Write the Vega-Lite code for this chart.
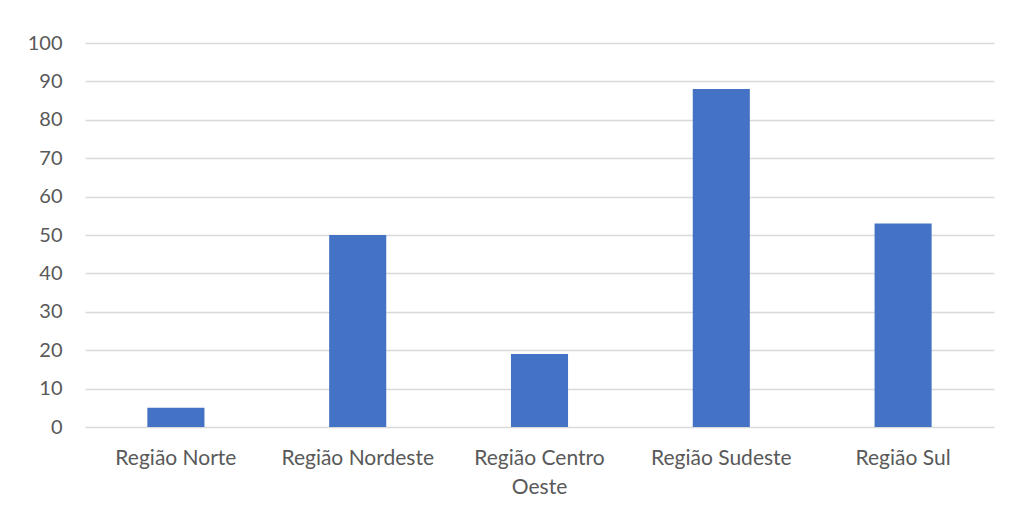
{
  "$schema": "https://vega.github.io/schema/vega-lite/v6.json",
  "width": 909,
  "height": 384,
  "autosize": {"type": "none"},
  "padding": {"left": 85, "top": 43, "right": 16, "bottom": 83},
  "background": "white",
  "config": {"view": {"stroke": null}, "font": "Lato"},
  "data": {"values": [
    {"regiao": "Região Norte", "valor": 5},
    {"regiao": "Região Nordeste", "valor": 50},
    {"regiao": "Região Centro Oeste", "valor": 19},
    {"regiao": "Região Sudeste", "valor": 88},
    {"regiao": "Região Sul", "valor": 53}
  ]},
  "mark": {"type": "bar", "color": "#4472C4", "width": {"band": 0.314}},
  "encoding": {
    "x": {
      "field": "regiao", "type": "nominal", "sort": null,
      "scale": {"paddingInner": 0, "paddingOuter": 0},
      "axis": {
        "title": null, "labelAngle": 0, "domain": false, "ticks": false,
        "labelFont": "Lato", "labelFontSize": 21, "labelColor": "#595959",
        "labelPadding": 20, "labelLineHeight": 29,
        "labelExpr": "datum.label == 'Região Centro Oeste' ? ['Região Centro', 'Oeste'] : datum.label"
      }
    },
    "y": {
      "field": "valor", "type": "quantitative",
      "scale": {"domain": [0, 100], "nice": false},
      "axis": {
        "title": null, "values": [0, 10, 20, 30, 40, 50, 60, 70, 80, 90, 100],
        "domain": false, "ticks": false,
        "labelFont": "Lato", "labelFontSize": 20, "labelColor": "#595959",
        "labelPadding": 23,
        "gridColor": "#d9d9d9", "gridWidth": 1.5
      }
    }
  }
}
